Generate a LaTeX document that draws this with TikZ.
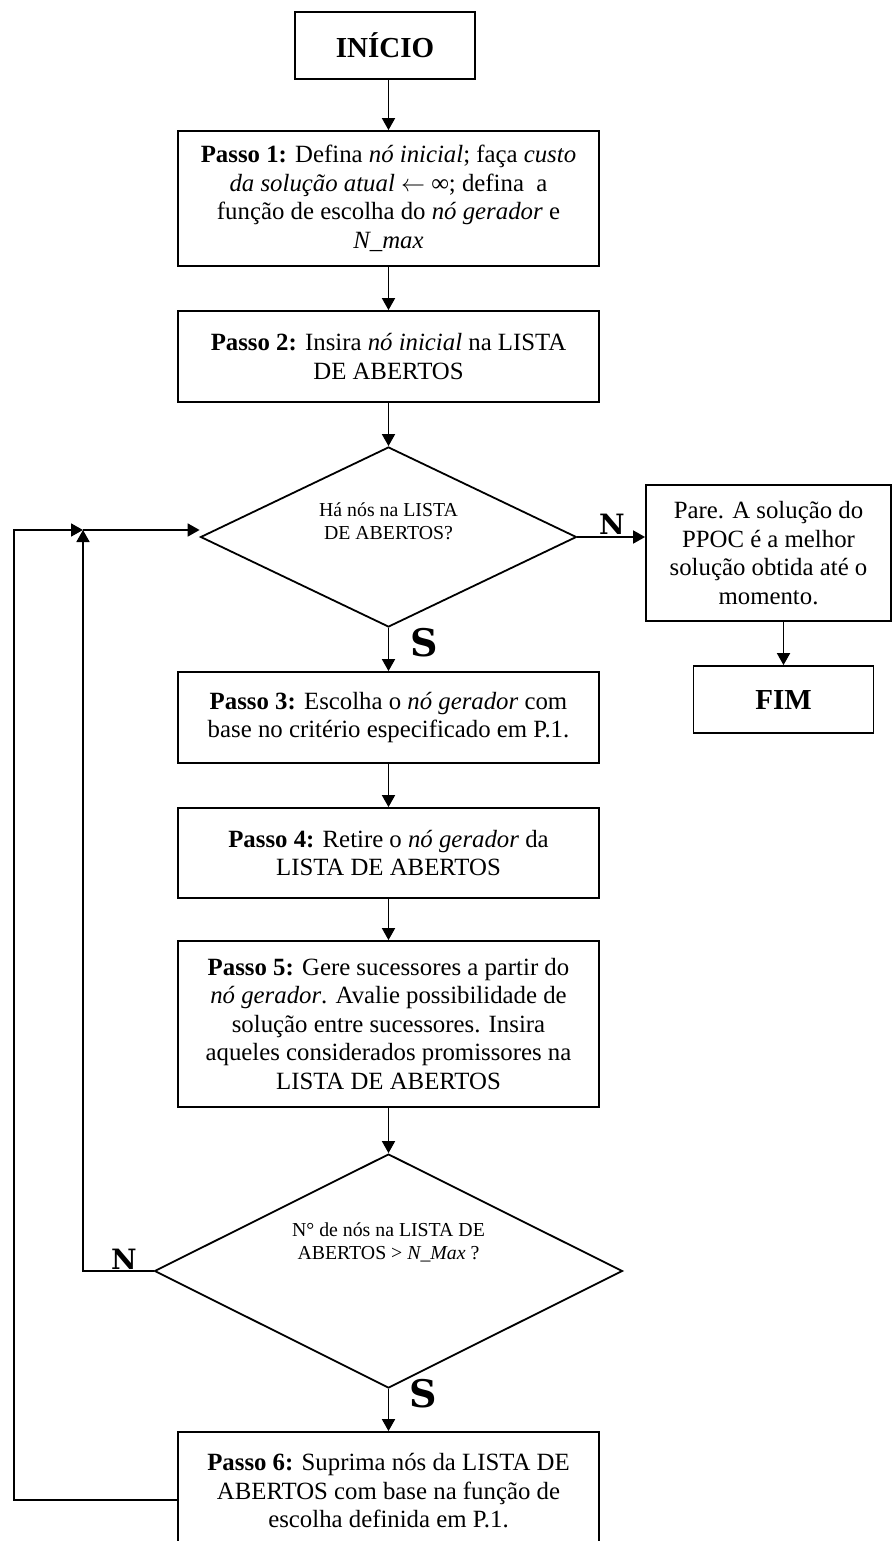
\documentclass[tikz,border=0pt]{standalone}
\usepackage{fontspec}
\setmainfont{Liberation Serif}
\newfontfamily\lblfont{DejaVu Serif}
\usetikzlibrary{shapes.geometric,arrows.meta,calc}
\begin{document}
\begin{tikzpicture}[x=0.5pt,y=-0.5pt,
  box/.style={draw, line width=0.9pt, rectangle, align=center, inner sep=2pt,
    font=\fontsize{12.4}{14.25}\selectfont},
  term/.style={box, minimum width=90pt, minimum height=33.5pt,
    font=\fontsize{14.5}{16}\selectfont\bfseries},
  stepbox/.style={box, minimum width=210.5pt},
  dec/.style={draw, diamond, line width=0.9pt, inner sep=0pt},
  dtxt/.style={align=center, inner sep=0pt, font=\fontsize{9.9}{11.5}\selectfont},
  arr/.style={line width=0.9pt, -{Triangle[length=6pt,width=6.5pt]}},
  yn/.style={inner sep=0pt, font=\lblfont\bfseries\fontsize{14}{14}\selectfont},
  ynbig/.style={inner sep=0pt, font=\lblfont\bfseries\fontsize{19}{19}\selectfont},
]
\useasboundingbox (0,0) rectangle (892,1541);

% nodes
\node[term] (ini) at (385,45.5) {INÍCIO};
\node[stepbox, minimum height=67.5pt] (p1) at (388.5,198.5)
  {\textbf{Passo 1:} Defina \textit{nó inicial}; faça \textit{custo}\\
   \textit{da solução atual} $\leftarrow$ ∞; defina\ \ a\\
   função de escolha do \textit{nó gerador} e\\
   \textit{N\_max}};
\node[stepbox, minimum height=45.5pt] (p2) at (388.5,356.5)
  {\textbf{Passo 2:} Insira \textit{nó inicial} na LISTA\\DE ABERTOS};
\node[dec, minimum width=188pt, minimum height=90pt] (d1) at (388.5,537) {};
\node[dtxt] (d1t) at (388.5,521.5) {Há nós na LISTA\\DE ABERTOS?};
\node[box, minimum width=122.5pt, minimum height=68pt] (stop) at (768.5,553)
  {Pare. A solução do\\PPOC é a melhor\\solução obtida até o\\momento.};
\node[term] (fim) at (783.5,699.5) {FIM};
\node[stepbox, minimum height=45.5pt] (p3) at (388.5,717.5)
  {\textbf{Passo 3:} Escolha o \textit{nó gerador} com\\base no critério especificado em P.1.};
\node[stepbox, minimum height=45pt] (p4) at (388.5,853)
  {\textbf{Passo 4:} Retire o \textit{nó gerador} da\\LISTA DE ABERTOS};
\node[stepbox, minimum height=83pt] (p5) at (388.5,1024)
  {\textbf{Passo 5:} Gere sucessores a partir do\\
   \textit{nó gerador}. Avalie possibilidade de\\
   solução entre sucessores. Insira\\
   aqueles considerados promissores na\\
   LISTA DE ABERTOS};
\node[dec, minimum width=234pt, minimum height=117pt] (d2) at (388.5,1271) {};
\node[dtxt] (d2t) at (388.5,1242.5) {N° de nós na LISTA DE\\ABERTOS > \textit{N\_Max} ?};
\node[stepbox, minimum height=59pt] (p6) at (388.5,1491)
  {\textbf{Passo 6:} Suprima nós da LISTA DE\\ABERTOS com base na função de\\escolha definida em P.1.};

% labels
\node[yn] (n1) at (612,524) {N};
\node[ynbig] (s1) at (424,643) {S};
\node[yn] (n2) at (124,1259) {N};
\node[ynbig] (s2) at (423,1394) {S};

% connectors
\draw[arr] (p1.north |- ini.south) -- (p1.north);
\draw[arr] (p1.south) -- (p2.north);
\draw[arr] (p2.south) -- (d1.north);
\draw[arr] (d1.south) -- (p3.north);
\draw[arr] (d1.east) -- (d1.east -| stop.west);
\draw[arr] (stop.south -| fim.north) -- (fim.north);
\draw[arr] (p3.south) -- (p4.north);
\draw[arr] (p4.south) -- (p5.north);
\draw[arr] (p5.south) -- (d2.north);
\draw[arr] (d2.south) -- (p6.north);

% loop back
\coordinate (j) at (83,530);
\coordinate (cl) at (14,530);
\coordinate (ret) at ($(p6.west)+(0,9)$);
\coordinate (d1in) at ($(d1.west)+(0,-7)$);
\draw[arr] (d2.west) -| (j);
\draw[arr] (ret) -| (cl) -- (j);
\draw[arr] (j) -- (d1in);
\end{tikzpicture}
\end{document}
